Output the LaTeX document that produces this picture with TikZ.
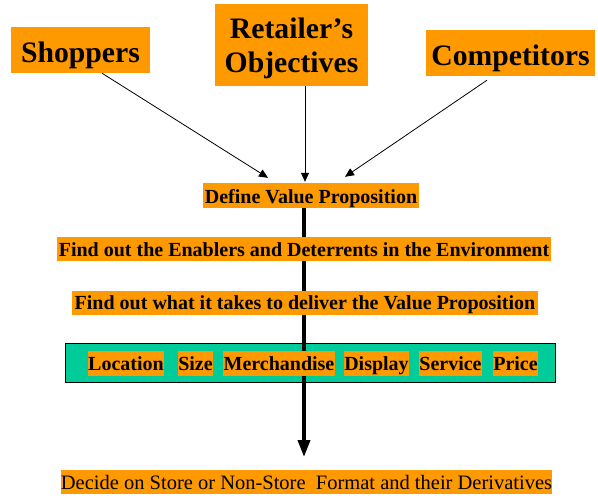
\documentclass[tikz,border=0pt]{standalone}
\usepackage{fontspec}
\setmainfont{Liberation Serif}
\usetikzlibrary{arrows.meta}
\definecolor{boxorange}{HTML}{FF9900}
\definecolor{rowgreen}{HTML}{00CC99}
\tikzset{
  bigbox/.style={fill=boxorange, inner sep=0pt, font=\fontsize{29.7}{34}\selectfont\bfseries, align=center},
  stepbox/.style={fill=boxorange, inner sep=0pt, minimum height=24pt, text height=14pt, text depth=0pt, font=\fontsize{20}{22}\selectfont\bfseries},
  itembox/.style={fill=boxorange, inner sep=0pt, minimum height=25pt, text height=13pt, text depth=0pt, font=\fontsize{20}{22}\selectfont\bfseries},
  thinarrow/.style={draw=black, line width=0.8pt, -{Triangle[width=8pt,length=9pt]}},
  thickarrow/.style={draw=black, line width=3.5pt, -{Triangle[width=12pt,length=17pt]}},
}
\begin{document}
\begin{tikzpicture}[x=1pt,y=-1pt]
\useasboundingbox (0,0) rectangle (598,498);
% green row (background)
\node[draw=black, line width=0.8pt, fill=rowgreen, inner sep=0pt, minimum width=490pt, minimum height=39pt] (row) at (310,362.5) {};
% top boxes
\node[bigbox, minimum width=139pt, minimum height=46pt, text height=24pt, text depth=0pt] (shop) at (80.5,50) {Shoppers};
\node[bigbox, minimum width=153pt, minimum height=82pt, text height=54pt, text depth=0pt] (ret) at (291.5,45) {Retailer’s\\Objectives};
\node[bigbox, minimum width=169pt, minimum height=46pt, text height=24pt, text depth=0pt] (comp) at (510.5,53) {Competitors};
% main spine
\coordinate (dtop) at (304,208);
\coordinate (tip) at (304,457);
\draw[thickarrow] (dtop) -- (tip);
% steps
\node[stepbox, minimum width=216pt, minimum height=25pt, text height=15pt] (define) at (311,195.5) {Define Value Proposition};
\node[stepbox, minimum width=494pt] (enab) at (304,249) {Find out the Enablers and Deterrents in the Environment};
\node[stepbox, minimum width=466pt, text height=13pt] (take) at (305,303) {Find out what it takes to deliver the Value Proposition};
% items
\node[itembox, minimum width=76pt] (loc) at (126,363.5) {Location};
\node[itembox, minimum width=35pt] (size) at (195.5,363.5) {Size};
\node[itembox, minimum width=112pt] (merch) at (279,363.5) {Merchandise};
\node[itembox, minimum width=65pt] (disp) at (376.5,363.5) {Display};
\node[itembox, minimum width=63pt] (serv) at (450.5,363.5) {Service};
\node[itembox, minimum width=45pt] (price) at (515.5,363.5) {Price};
% decide
\node[fill=boxorange, inner sep=0pt, minimum width=483pt, minimum height=24pt, text height=14.5pt, text depth=0pt, font=\fontsize{20.5}{22}\selectfont] (decide) at (306.5,482) {Decide on Store or Non-Store\ \ Format and their Derivatives};
% thin arrows
\draw[thinarrow] ([xshift=21.5pt]shop.south) -- ([xshift=-43pt,yshift=5pt]define.north);
\draw[thinarrow] ([xshift=13.5pt]ret.south) -- ([xshift=-6pt,yshift=1pt]define.north);
\draw[thinarrow] ([xshift=-23.5pt,yshift=-4pt]comp.south) -- ([xshift=34pt,yshift=6pt]define.north);
\end{tikzpicture}
\end{document}
